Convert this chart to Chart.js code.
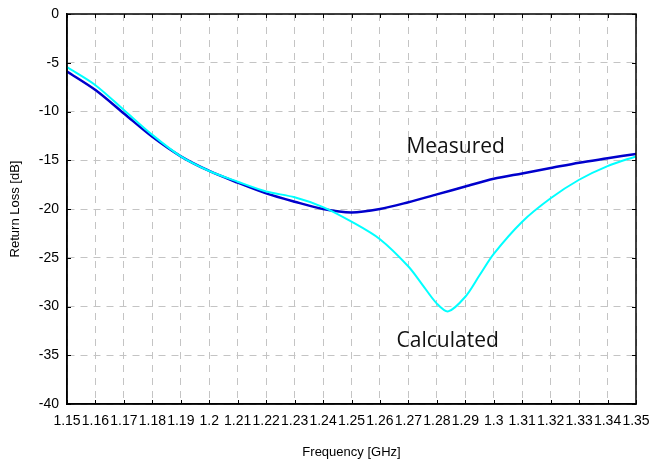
<!DOCTYPE html>
<html>
<head>
<meta charset="utf-8">
<script src="https://cdn.jsdelivr.net/npm/chart.js@4"></script>
<style>
  html, body { margin: 0; padding: 0; background: #fff; }
  #wrap { width: 652px; height: 460px; }
</style>
</head>
<body>
<div id="wrap"><canvas id="chart"></canvas></div>
<script>
// frequency points (GHz)
const freqMeasured = [1.15, 1.16, 1.17, 1.18, 1.19, 1.20, 1.21, 1.22, 1.23, 1.24, 1.25,
                      1.26, 1.27, 1.28, 1.29, 1.30, 1.31, 1.32, 1.33, 1.34, 1.35];
const measured = [-5.9, -7.8, -10.2, -12.6, -14.6, -16.1, -17.3, -18.4, -19.25, -20.0, -20.35,
                  -20.0, -19.3, -18.5, -17.7, -16.9, -16.35, -15.8, -15.25, -14.8, -14.35];

const freqCalculated = [1.15, 1.16, 1.17, 1.18, 1.19, 1.20, 1.21, 1.22, 1.23, 1.24, 1.25,
                        1.26, 1.27, 1.275, 1.28, 1.284, 1.29, 1.295, 1.30, 1.31, 1.32,
                        1.33, 1.34, 1.35];
const calculated = [-5.45, -7.3, -9.85, -12.4, -14.6, -16.1, -17.2, -18.2, -18.8, -19.8, -21.3,
                    -23.1, -25.9, -27.8, -29.7, -30.5, -29.0, -26.8, -24.6, -21.3, -18.9,
                    -17.0, -15.6, -14.6];

const seriesLabels = ["Measured", "Calculated"];

const toPoints = (xs, ys) => xs.map((x, i) => ({ x: x, y: ys[i] }));

const tickFont = { family: "'Liberation Sans', Arial", size: 14 };
const titleFont = { family: "'Liberation Sans', Arial", size: 13 };

// frame round the plot area, inward tick marks, series names inside the plot
const framePlugin = {
    id: "frame",
    afterDatasetsDraw(chart) {
        const { ctx, chartArea: a, scales } = chart;
        ctx.save();
        ctx.strokeStyle = "#000";
        ctx.lineWidth = 1;
        ctx.beginPath();
        scales.x.ticks.forEach(t => {
            const px = Math.round(scales.x.getPixelForValue(t.value)) + 0.5;
            ctx.moveTo(px, a.bottom); ctx.lineTo(px, a.bottom - 4);
            ctx.moveTo(px, a.top); ctx.lineTo(px, a.top + 4);
        });
        scales.y.ticks.forEach(t => {
            const py = Math.round(scales.y.getPixelForValue(t.value)) + 0.5;
            ctx.moveTo(a.left, py); ctx.lineTo(a.left + 4, py);
            ctx.moveTo(a.right, py); ctx.lineTo(a.right - 4, py);
        });
        ctx.stroke();
        ctx.lineWidth = 1.5;
        ctx.strokeRect(a.left, a.top, a.right - a.left, a.bottom - a.top);
        ctx.fillStyle = "#111";
        ctx.font = "21px 'Open Sans'";
        ctx.textAlign = "center";
        ctx.textBaseline = "middle";
        ctx.fillText(seriesLabels[0], scales.x.getPixelForValue(1.2866), scales.y.getPixelForValue(-13.6));
        ctx.fillText(seriesLabels[1], scales.x.getPixelForValue(1.2838), scales.y.getPixelForValue(-33.5));
        ctx.restore();
    }
};

new Chart(document.getElementById("chart"), {
    type: "line",
    data: {
        datasets: [{
            label: seriesLabels[1],
            data: toPoints(freqCalculated, calculated),
            borderColor: "#00ffff",
            borderWidth: 2,
            pointRadius: 0,
            tension: 0.3
        }, {
            label: seriesLabels[0],
            data: toPoints(freqMeasured, measured),
            borderColor: "#0000cc",
            borderWidth: 2.5,
            pointRadius: 0,
            tension: 0.3
        }]
    },
    options: {
        responsive: true,
        maintainAspectRatio: false,
        animation: false,
        layout: { padding: { top: 14, right: 16, left: 0, bottom: 0 } },
        plugins: {
            legend: { display: false },
            tooltip: { enabled: false }
        },
        scales: {
            x: {
                type: "linear",
                min: 1.15,
                max: 1.35,
                afterFit: (s) => { s.height = 56; s.paddingRight = 0; s.paddingLeft = 0; },
                ticks: {
                    stepSize: 0.01,
                    autoSkip: false,
                    maxRotation: 0,
                    padding: 9,
                    color: "#000",
                    font: tickFont,
                    callback: (v) => String(Number(v.toFixed(2)))
                },
                grid: { color: "#c4c4c4", lineWidth: 1, drawTicks: false },
                border: { display: true, color: "#000", width: 1.5, dash: [7, 6] },
                title: {
                    display: true,
                    text: "Frequency [GHz]",
                    color: "#000",
                    font: titleFont,
                    padding: { top: 8, bottom: 0 }
                }
            },
            y: {
                min: -40,
                max: 0,
                afterFit: (s) => { s.width = 67; s.paddingTop = 0; s.paddingBottom = 0; },
                ticks: {
                    stepSize: 5,
                    padding: 8,
                    color: "#000",
                    font: tickFont
                },
                grid: { color: "#c4c4c4", lineWidth: 1, drawTicks: false },
                border: { display: true, color: "#000", width: 1.5, dash: [7, 6] },
                title: {
                    display: true,
                    text: "Return Loss [dB]",
                    color: "#000",
                    font: titleFont,
                    padding: { top: 8, bottom: 0 }
                }
            }
        }
    },
    plugins: [framePlugin]
});
</script>
</body>
</html>
